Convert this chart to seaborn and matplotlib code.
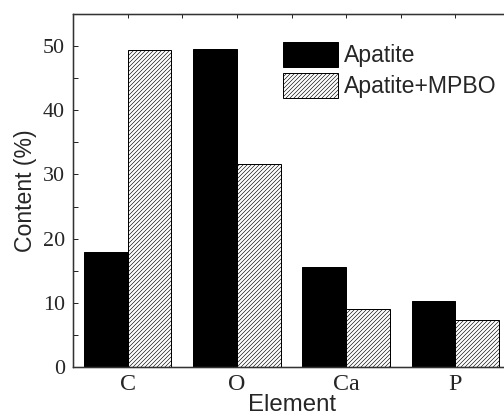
import pandas as pd
import numpy as np
import seaborn as sns
import matplotlib.pyplot as plt

# values
elements = ['C', 'O', 'Ca', 'P']
apatite = [17.9, 49.5, 15.6, 10.3]
apatite_mpbo = [49.4, 31.6, 9.0, 7.4]
series = ['Apatite', 'Apatite+MPBO']

df = pd.DataFrame({
    'Element': elements * 2,
    'Content': apatite + apatite_mpbo,
    'Sample': [series[0]] * 4 + [series[1]] * 4,
})

sns.set_style('ticks')
plt.rcParams['hatch.linewidth'] = 0.6

fig = plt.figure(figsize=(7, 417 / 72), dpi=72)
ax = fig.add_axes([73 / 504, 50 / 417, 437 / 504, 353 / 417])

sns.barplot(data=df, x='Element', y='Content', hue='Sample', order=elements,
            palette=['black', 'white'], edgecolor='black', linewidth=1,
            saturation=1, width=0.8, ax=ax)

# hatch the second series
for bar in ax.containers[1]:
    bar.set_hatch('//////')

ax.set_xlim(-0.5, 3.5)
ax.set_ylim(0, 55)
ax.set_yticks(np.arange(0, 51, 10))
ax.set_yticks(np.arange(5, 55, 10), minor=True)
ax.tick_params(axis='y', which='both', direction='in', length=5, width=1, pad=8)
ax.tick_params(axis='x', length=0, pad=7)

for lab in ax.get_yticklabels():
    lab.set_fontfamily('Liberation Serif')
    lab.set_fontsize(22)
for lab in ax.get_xticklabels():
    lab.set_fontfamily('Liberation Serif')
    lab.set_fontsize(24)

ax.set_xlabel('Element', fontfamily='Liberation Sans', fontsize=24, labelpad=-1)
ax.set_ylabel('Content (%)', fontfamily='Liberation Sans', fontsize=23, labelpad=6)

# ticks along the top edge
top = ax.twiny()
top.set_xlim(ax.get_xlim())
top.set_xticks(np.arange(-0.5, 3.6, 0.5))
top.set_xticklabels([])
top.tick_params(axis='x', direction='in', length=4, width=1)

for a in (ax, top):
    for s in a.spines.values():
        s.set_linewidth(1.3)
        s.set_color('#333333')

leg = ax.legend(loc='upper left', bbox_to_anchor=(0.46, 0.948), frameon=False,
                prop={'family': 'Liberation Sans', 'size': 23},
                handlelength=2.4, handleheight=1.3, labelspacing=0.25,
                handletextpad=0.25, borderaxespad=0)
leg.legend_handles[1].set_hatch('//////')

fig.savefig('out.png', dpi=72)
